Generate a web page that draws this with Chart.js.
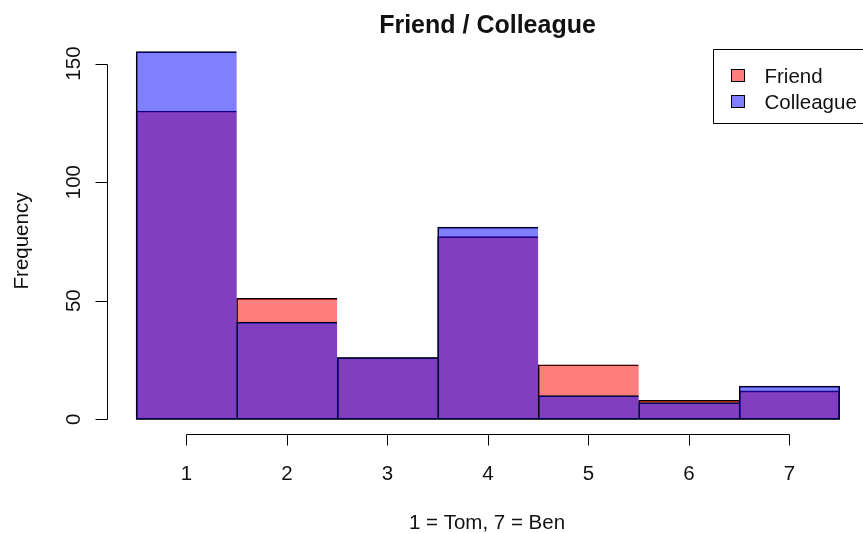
<!DOCTYPE html>
<html>
<head>
<meta charset="utf-8">
<script src="https://cdn.jsdelivr.net/npm/chart.js@4/dist/chart.umd.min.js"></script>
<style>
  html, body { margin: 0; padding: 0; background: #ffffff; overflow: hidden; }
  #wrap { width: 863px; height: 533px; }
</style>
</head>
<body>
<div id="wrap"><canvas id="c" width="863" height="533"></canvas></div>
<script>
// ---- data ----
const bins = [1, 2, 3, 4, 5, 6, 7];
const friendCounts = [130, 51, 26, 77, 23, 8, 12];
const colleagueCounts = [155, 41, 26, 81, 10, 7, 14];
const yTickValues = [0, 50, 100, 150];
const chartTitle = 'Friend / Colleague';
const xAxisTitle = '1 = Tom, 7 = Ben';
const yAxisTitle = 'Frequency';
const seriesNames = ['Friend', 'Colleague'];

const FONT = '"Liberation Sans", Arial, Helvetica, sans-serif';
const friendFill = 'rgba(255,0,0,0.5)';
const colleagueFill = 'rgba(0,0,255,0.5)';
const textColor = '#111';

const edgeWidth = (c) => ({ top: 1, bottom: 1, left: 1, right: c.dataIndex === bins.length - 1 ? 1 : 0 });

const rAxes = {
  id: 'rAxes',
  afterDraw(chart) {
    const ctx = chart.ctx;
    const xs = chart.scales.x, ys = chart.scales.y;
    const area = chart.chartArea;
    ctx.save();
    ctx.strokeStyle = '#000';
    ctx.fillStyle = textColor;
    ctx.lineWidth = 1;

    // x axis
    const xAxisY = Math.round(area.bottom) + 0.5;
    const x0 = Math.round(xs.getPixelForValue(bins[0])) + 0.5;
    const x1 = Math.round(xs.getPixelForValue(bins[bins.length - 1])) + 0.5;
    ctx.beginPath();
    ctx.moveTo(x0, xAxisY); ctx.lineTo(x1, xAxisY);
    bins.forEach(b => {
      const px = Math.round(xs.getPixelForValue(b)) + 0.5;
      ctx.moveTo(px, xAxisY); ctx.lineTo(px, xAxisY + 11);
    });
    ctx.stroke();
    ctx.font = '20.5px ' + FONT;
    ctx.textAlign = 'center';
    ctx.textBaseline = 'alphabetic';
    bins.forEach(b => {
      ctx.fillText(String(b), xs.getPixelForValue(b), area.bottom + 46);
    });
    ctx.fillText(xAxisTitle, 487, area.bottom + 95);

    // y axis
    const yAxisX = Math.round(area.left) - 0.5;
    const yTop = Math.round(ys.getPixelForValue(yTickValues[yTickValues.length - 1])) + 0.5;
    const yBot = Math.round(ys.getPixelForValue(yTickValues[0])) + 0.5;
    ctx.beginPath();
    ctx.moveTo(yAxisX, yTop); ctx.lineTo(yAxisX, yBot);
    yTickValues.forEach(v => {
      const py = Math.round(ys.getPixelForValue(v)) + 0.5;
      ctx.moveTo(yAxisX, py); ctx.lineTo(yAxisX - 12, py);
    });
    ctx.stroke();
    yTickValues.forEach(v => {
      ctx.save();
      ctx.translate(area.left - 28, ys.getPixelForValue(v));
      ctx.rotate(-Math.PI / 2);
      ctx.fillText(String(v), 0, 0);
      ctx.restore();
    });
    ctx.save();
    ctx.translate(28, 241);
    ctx.rotate(-Math.PI / 2);
    ctx.fillText(yAxisTitle, 0, 0);
    ctx.restore();

    // title
    ctx.font = 'bold 25px ' + FONT;
    ctx.fillText(chartTitle, 487.5, 33);

    // legend (R style, clipped at right)
    ctx.beginPath();
    ctx.rect(713.5, 49.5, 200, 74);
    ctx.stroke();
    ctx.font = '20.5px ' + FONT;
    ctx.textAlign = 'left';
    const fills = [friendFill, colleagueFill];
    seriesNames.forEach((name, i) => {
      const yy = 69 + i * 26;
      ctx.fillStyle = '#fff';
      ctx.fillRect(731, yy, 13, 12);
      ctx.fillStyle = fills[i];
      ctx.fillRect(731, yy, 13, 12);
      ctx.strokeStyle = '#000';
      ctx.strokeRect(731.5, yy + 0.5, 13, 12);
      ctx.fillStyle = textColor;
      ctx.fillText(name, 764.5, yy + 13.5);
    });
    ctx.restore();
  }
};

new Chart(document.getElementById('c'), {
  type: 'bar',
  data: {
    datasets: [
      {
        label: seriesNames[0],
        data: bins.map((b, i) => ({ x: b, y: friendCounts[i] })),
        backgroundColor: friendFill,
        borderColor: '#000',
        borderWidth: edgeWidth,
        borderSkipped: false,
        grouped: false,
        order: 2,
        barPercentage: 1,
        categoryPercentage: 1
      },
      {
        label: seriesNames[1],
        data: bins.map((b, i) => ({ x: b, y: colleagueCounts[i] })),
        backgroundColor: colleagueFill,
        borderColor: '#000',
        borderWidth: edgeWidth,
        borderSkipped: false,
        grouped: false,
        order: 1,
        barPercentage: 1,
        categoryPercentage: 1
      }
    ]
  },
  options: {
    responsive: false,
    animation: false,
    devicePixelRatio: 1,
    layout: { padding: { left: 108, right: 0, top: 37, bottom: 99 } },
    plugins: { legend: { display: false }, tooltip: { enabled: false }, title: { display: false } },
    scales: {
      x: {
        type: 'linear', display: false, offset: false,
        min: 0.22, max: 7.732,
        afterBuildTicks: (axis) => { axis.ticks = bins.map(v => ({ value: v })); }
      },
      y: {
        type: 'linear', display: false,
        min: -6.2, max: 161.2,
        afterBuildTicks: (axis) => { axis.ticks = yTickValues.map(v => ({ value: v })); }
      }
    }
  },
  plugins: [rAxes]
});
</script>
</body>
</html>
